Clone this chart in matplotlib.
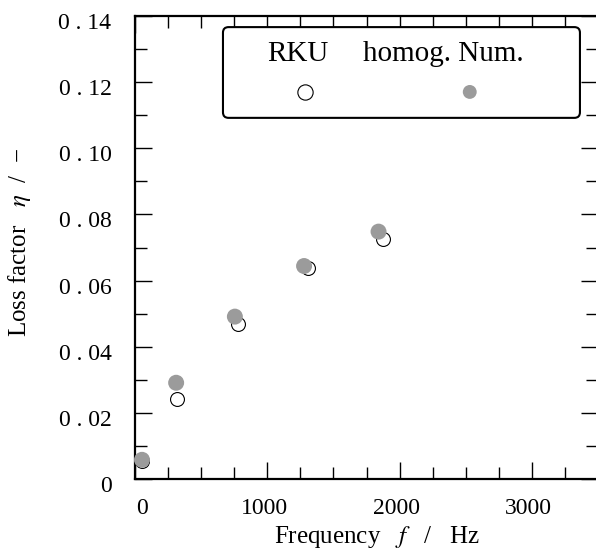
import matplotlib
matplotlib.use("Agg")
import matplotlib.pyplot as plt
from matplotlib.patches import FancyBboxPatch
from matplotlib.ticker import FixedLocator, FixedFormatter, MultipleLocator
from matplotlib.transforms import ScaledTranslation

plt.rcParams['font.family'] = ['Liberation Serif', 'DejaVu Serif']
plt.rcParams['mathtext.fontset'] = 'stix'

# Data
rku_f = [53, 318, 778, 1306, 1876]
rku_eta = [0.0055, 0.0242, 0.0469, 0.0638, 0.0725]
num_f = [53, 311, 755, 1278, 1841]
num_eta = [0.0058, 0.0291, 0.0491, 0.0644, 0.0748]

y_ticks = [0, 0.02, 0.04, 0.06, 0.08, 0.10, 0.12, 0.14]
y_labels = ['0', '0 . 02', '0 . 04', '0 . 06', '0 . 08', '0 . 10', '0 . 12', '0 . 14']
x_ticks = [0, 1000, 2000, 3000]
x_labels = ['0', '1000', '2000', '3000']
legend_labels = ['RKU', 'homog. Num.']

gray = '#9b9b9b'
fs = 17

fig = plt.figure(figsize=(5.96, 5.5), dpi=100)
ax = fig.add_axes([135/596, 1 - 479/550, 463/596, 463/550])

ax.scatter(rku_f, rku_eta, s=10**2, facecolors='white', edgecolors='black',
           linewidths=0.8, zorder=3, clip_on=False)
ax.scatter(num_f, num_eta, s=11.5**2, facecolors=gray, edgecolors='none',
           zorder=4, clip_on=False)

ax.set_xlim(0, 3500)
ax.set_ylim(0, 0.14)

ax.xaxis.set_major_locator(FixedLocator(x_ticks))
ax.xaxis.set_major_formatter(FixedFormatter(x_labels))
ax.xaxis.set_minor_locator(MultipleLocator(250))
ax.yaxis.set_major_locator(FixedLocator(y_ticks))
ax.yaxis.set_major_formatter(FixedFormatter(y_labels))
ax.yaxis.set_minor_locator(MultipleLocator(0.01))

ax.tick_params(which='both', direction='in', top=True, right=True,
               labelsize=fs, width=1.0, color='black')
ax.tick_params(which='major', length=12)
ax.tick_params(which='minor', length=8.5)
ax.tick_params(axis='x', which='major', pad=14)
ax.tick_params(axis='y', which='major', pad=17)

# small label offsets as in the reference
dy = ScaledTranslation(0, -5/100, fig.dpi_scale_trans)
for lab in ax.get_yticklabels():
    lab.set_transform(lab.get_transform() + dy)
xl = ax.get_xticklabels()
xl[0].set_transform(xl[0].get_transform() + ScaledTranslation(7/100, 0, fig.dpi_scale_trans))
for lab in xl[1:]:
    lab.set_transform(lab.get_transform() + ScaledTranslation(-3/100, 0, fig.dpi_scale_trans))

for sp in ax.spines.values():
    sp.set_linewidth(1.6)

ax.set_xlabel('Frequency   $f$   /   Hz', fontsize=18)
ax.xaxis.set_label_coords(0.523, -0.097)
ax.set_ylabel('Loss factor   $\\eta$  /  \u2212', fontsize=18)
ax.yaxis.set_label_coords(-0.22, 0.51)

# Legend box (manual layout: labels above markers)
box = FancyBboxPatch((0.19, 0.78), 0.771, 0.196,
                     boxstyle='round,pad=0,rounding_size=0.012',
                     transform=ax.transAxes, facecolor='white',
                     edgecolor='black', linewidth=1.5, zorder=10)
ax.add_patch(box)
ax.text(0.352, 0.918, legend_labels[0], transform=ax.transAxes, fontsize=21,
        ha='center', va='center', zorder=11)
ax.text(0.665, 0.918, legend_labels[1], transform=ax.transAxes, fontsize=21,
        ha='center', va='center', zorder=11)
ax.scatter([0.368], [0.836], s=11**2, transform=ax.transAxes, facecolors='white',
           edgecolors='black', linewidths=0.8, zorder=11, clip_on=False)
ax.scatter([0.723], [0.836], s=10**2, transform=ax.transAxes, facecolors=gray,
           edgecolors='none', zorder=11, clip_on=False)

fig.savefig('out.png', dpi=100)
